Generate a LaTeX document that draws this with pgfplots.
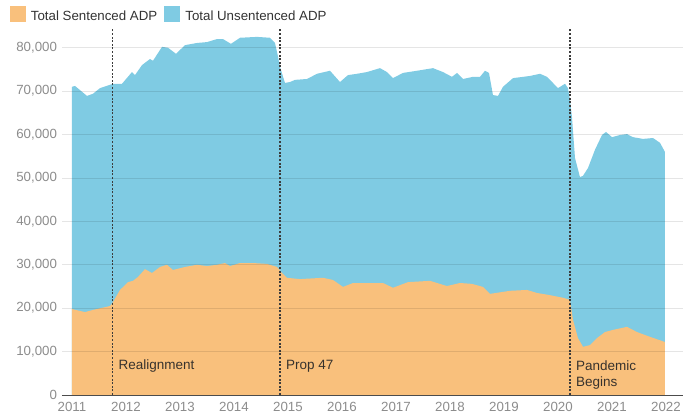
\documentclass[border=0pt]{standalone}
\usepackage{pgfplots}
\pgfplotsset{compat=1.18}
\usepackage{pgfplotstable}
\usepackage{fontspec}
\setmainfont{Liberation Sans}
\definecolor{sentcol}{RGB}{249,192,124}
\definecolor{unsentcol}{RGB}{127,203,227}
\definecolor{ticktext}{RGB}{140,140,140}
\definecolor{notetext}{RGB}{55,50,45}
\definecolor{evline}{RGB}{60,60,60}

% total ADP (sentenced + unsentenced), top of the blue area
\pgfplotstableread{
year total
2011.000 71000
2011.056 71200
2011.278 68900
2011.389 69400
2011.519 70700
2011.759 71700
2011.926 71700
2012.111 74400
2012.167 73700
2012.296 76000
2012.444 77400
2012.500 77000
2012.667 80200
2012.778 80000
2012.926 78600
2013.093 80600
2013.315 81100
2013.500 81300
2013.685 82000
2013.796 82000
2013.944 80900
2014.111 82300
2014.426 82500
2014.667 82300
2014.759 81100
2014.815 78000
2014.852 75600
2014.944 71900
2015.037 72100
2015.130 72600
2015.352 72800
2015.537 74000
2015.778 74700
2015.963 72100
2016.111 73700
2016.278 74000
2016.463 74400
2016.704 75300
2016.833 74400
2016.944 73000
2017.130 74200
2017.389 74700
2017.685 75300
2017.870 74400
2018.037 73300
2018.130 74200
2018.241 72800
2018.426 73300
2018.556 73300
2018.648 74700
2018.722 74200
2018.796 69100
2018.889 68900
2018.981 71000
2019.167 73000
2019.481 73500
2019.667 74000
2019.796 73300
2020.000 70700
2020.130 71700
2020.185 70700
2020.222 68000
2020.259 64000
2020.315 54600
2020.407 50200
2020.463 50500
2020.556 52300
2020.685 56500
2020.815 59900
2020.889 60600
2021.000 59400
2021.148 59900
2021.278 60100
2021.389 59400
2021.574 59000
2021.759 59200
2021.889 58100
2021.981 56000
}\totaltable

% sentenced ADP
\pgfplotstableread{
year sentenced
2011.000 19800
2011.241 19100
2011.389 19600
2011.704 20500
2011.759 21400
2011.889 24200
2012.037 26000
2012.130 26300
2012.222 27200
2012.352 29000
2012.481 28100
2012.630 29500
2012.759 30000
2012.870 28800
2013.093 29500
2013.315 30000
2013.500 29700
2013.685 30000
2013.833 30400
2013.926 29700
2014.111 30400
2014.352 30400
2014.611 30200
2014.796 29500
2014.889 28100
2014.981 27000
2015.222 26700
2015.648 27000
2015.833 26500
2016.019 24900
2016.204 25800
2016.519 25800
2016.759 25800
2016.944 24700
2017.222 26000
2017.630 26300
2017.944 25100
2018.185 25800
2018.407 25600
2018.611 24900
2018.741 23300
2019.111 24000
2019.426 24200
2019.611 23500
2019.852 23000
2020.093 22400
2020.222 21900
2020.278 17300
2020.370 13100
2020.463 11100
2020.593 11500
2020.722 13100
2020.870 14500
2021.019 15000
2021.278 15700
2021.463 14500
2021.704 13400
2021.981 12200
}\senttable

\begin{document}
\begin{tikzpicture}
\useasboundingbox (-62pt,-22pt) rectangle (633pt,395pt);
\begin{axis}[
    scale only axis,
    width=621pt, height=367pt,
    xmin=2010.815, xmax=2022.315,
    ymin=0, ymax=84550,
    axis on top,
    axis x line*=bottom, axis y line*=left,
    y axis line style={draw=none},
    x axis line style={draw=black!70, line width=0.9pt},
    major tick length=0pt,
    xtick={2011,2012,...,2022},
    ytick={0,10000,...,80000},
    scaled y ticks=false,
    ymajorgrids,
    grid style={black, opacity=0.1, line width=0.8pt},
    /pgf/number format/assume math mode=true,
    tick label style={font=\fontsize{13.3}{15}\selectfont, text=ticktext},
    xticklabel style={yshift=-4pt, /pgf/number format/.cd, 1000 sep={}},
    yticklabel style={xshift=-1.5pt, /pgf/number format/.cd, 1000 sep={,}},
    legend style={at={(axis description cs:-0.089,1.065)}, anchor=north west,
        draw=none, fill=none, legend columns=2,
        font=\fontsize{13.3}{15}\selectfont, text=black!80,
        /tikz/every even column/.append style={column sep=5pt}},
    legend image code/.code={\fill[#1, draw=none] (0pt,-6pt) rectangle (16pt,10pt); \path[draw=none, fill=none] (0pt,0pt) -- (19pt,0pt);},
]
\addlegendimage{fill=sentcol}
\addlegendentry{Total Sentenced ADP}
\addlegendimage{fill=unsentcol}
\addlegendentry{Total Unsentenced ADP}

\addplot[fill=unsentcol, draw=none, forget plot] table[x=year, y=total] {\totaltable} \closedcycle;
\addplot[fill=sentcol, draw=none, forget plot] table[x=year, y=sentenced] {\senttable} \closedcycle;

% event lines
\addplot[evline, line width=1.3pt, dash pattern=on 2pt off 1.6pt, forget plot] coordinates {(2011.75,0) (2011.75,84550)};
\addplot[evline, line width=1.3pt, dash pattern=on 2pt off 1.6pt, forget plot] coordinates {(2014.85,0) (2014.85,84550)};
\addplot[evline, line width=1.3pt, dash pattern=on 2pt off 1.6pt, forget plot] coordinates {(2020.22,0) (2020.22,84550)};

\node[anchor=west, text=notetext, font=\fontsize{13.5}{15}\selectfont] at (axis cs:2011.80,6700) {Realignment};
\node[anchor=west, text=notetext, font=\fontsize{13.5}{15}\selectfont] at (axis cs:2014.90,6700) {Prop 47};
\node[anchor=north west, align=left, text=notetext, font=\fontsize{13.5}{16}\selectfont] at (axis cs:2020.27,8800) {Pandemic\\Begins};
\end{axis}
\end{tikzpicture}
\end{document}
